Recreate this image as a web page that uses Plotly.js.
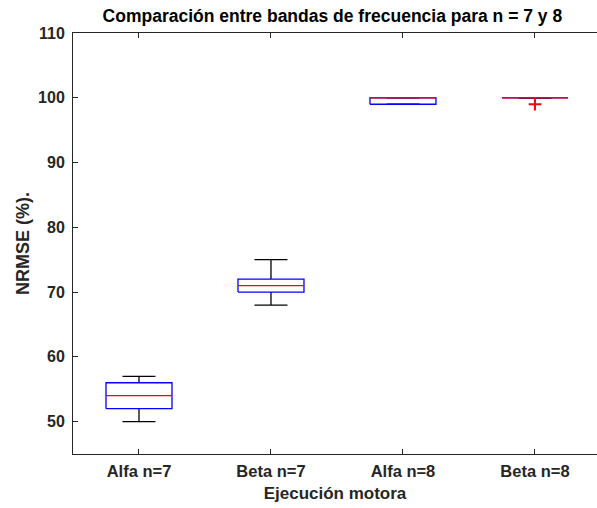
<!DOCTYPE html>
<html>
<head>
<meta charset="utf-8">
<script src="https://cdn.plot.ly/plotly-3.0.1.min.js"></script>
<style>html,body{margin:0;padding:0;background:#fff;}#chart{width:597px;height:508px;}</style>
</head>
<body>
<div id="chart"></div>
<script>
const categories = ['Alfa n=7', 'Beta n=7', 'Alfa n=8', 'Beta n=8'];
const lowerWhisker = [50, 68, 99, 100];
const q1 = [52, 70, 99, 100];
const median = [54, 71, 100, 100];
const q3 = [56, 72, 100, 100];
const upperWhisker = [57, 75, 100, 100];
const outliers = [[], [], [], [99]];
const yTicks = [50, 60, 70, 80, 90, 100, 110];

const boxHalf = 0.25, capHalf = 0.125;
const wx = [], wy = [], bx = [], by = [], mx = [], my = [], ox = [], oy = [];
categories.forEach((c, i) => {
  const p = i + 1;
  wx.push(p, p, null, p, p, null);
  wy.push(q3[i], upperWhisker[i], null, lowerWhisker[i], q1[i], null);
  wx.push(p - capHalf, p + capHalf, null, p - capHalf, p + capHalf, null);
  wy.push(upperWhisker[i], upperWhisker[i], null, lowerWhisker[i], lowerWhisker[i], null);
  bx.push(p - boxHalf, p + boxHalf, p + boxHalf, p - boxHalf, p - boxHalf, null);
  by.push(q1[i], q1[i], q3[i], q3[i], q1[i], null);
  mx.push(p - boxHalf, p + boxHalf, null);
  my.push(median[i], median[i], null);
  outliers[i].forEach(v => { ox.push(p); oy.push(v); });
});

const traces = [
  {x: wx, y: wy, mode: 'lines', line: {color: '#000000', width: 1.3}, hoverinfo: 'skip'},
  {x: bx, y: by, mode: 'lines', line: {color: '#0000ff', width: 1.3}, hoverinfo: 'skip'},
  {x: mx, y: my, mode: 'lines', line: {color: '#ff0000', width: 1.3}, hoverinfo: 'skip'},
  {x: ox, y: oy, mode: 'markers', marker: {symbol: 'cross-thin-open', size: 9, color: '#ff0000', line: {color: '#ff0000', width: 2}}, hoverinfo: 'skip'}
];

const fnt = {family: 'Liberation Sans, Arial, sans-serif', color: '#262626', weight: 'bold'};
const layout = {
  width: 597, height: 508,
  margin: {l: 73, r: 0, t: 33, b: 54, pad: 0},
  paper_bgcolor: '#ffffff', plot_bgcolor: '#ffffff',
  showlegend: false,
  title: {text: 'Comparación entre bandas de frecuencia para n = 7 y 8',
    font: Object.assign({}, fnt, {size: 17.5, color: '#000000'}),
    xref: 'paper', x: 0.495, xanchor: 'center', yref: 'container', y: 1 - 16 / 508, yanchor: 'middle'},
  xaxis: {
    range: [0.5, 4.47], tickvals: [1, 2, 3, 4], ticktext: categories,
    ticks: 'inside', ticklen: 5, tickcolor: '#262626', tickwidth: 1,
    showline: true, linecolor: '#262626', linewidth: 1, mirror: 'ticks',
    showgrid: false, zeroline: false, ticklabelstandoff: 2,
    tickfont: Object.assign({}, fnt, {size: 16.5}),
    title: {text: 'Ejecución motora', font: Object.assign({}, fnt, {size: 17}), standoff: 8}
  },
  yaxis: {
    range: [45, 110], tickvals: yTicks, ticktext: yTicks.map(String),
    ticks: 'inside', ticklen: 5, tickcolor: '#262626', tickwidth: 1,
    showline: true, linecolor: '#262626', linewidth: 1, mirror: false,
    showgrid: false, zeroline: false, ticklabelstandoff: 4,
    tickfont: Object.assign({}, fnt, {size: 16}),
    title: {text: 'NRMSE (%).', font: Object.assign({}, fnt, {size: 18}), standoff: 3}
  }
};

Plotly.newPlot('chart', traces, layout, {displayModeBar: false, staticPlot: true});
</script>
</body>
</html>
